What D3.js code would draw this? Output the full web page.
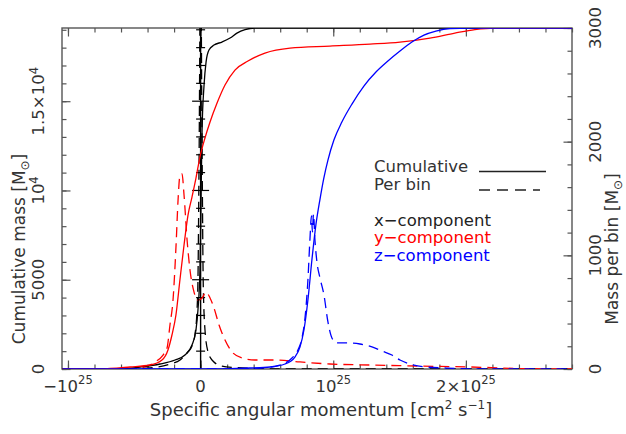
<!DOCTYPE html>
<html>
<head>
<meta charset="utf-8">
<script src="https://cdn.jsdelivr.net/npm/d3@7"></script>
<style>
  body { margin: 0; background: #fff; }
  text { font-family: "DejaVu Sans", sans-serif; fill: #333; }
</style>
</head>
<body>
<div id="chart"></div>
<script>
// specific angular momentum in units of 1e25 cm^2 s^-1
// cumulative mass [Msun] (left axis)
const cumX = [[-1.04,0],[-0.607,0],[-0.457,112],[-0.306,280],[-0.193,504],[-0.118,784],[-0.065,1344],
  [-0.035,2184],[-0.020,3304],[-0.005,5544],[0.003,9464],[0.011,13384],[0.026,15904],[0.041,17192],
  [0.063,17864],[0.101,18144],[0.161,18312],[0.222,18536],[0.274,18816],[0.335,19012],[0.41,19100],[2.8,19100]];
const cumY = [[-1.04,0],[-0.758,0],[-0.532,112],[-0.381,224],[-0.291,504],[-0.246,1064],[-0.216,1904],
  [-0.186,3024],[-0.156,4984],[-0.125,6944],[-0.095,8624],[-0.065,9632],[-0.035,10696],[-0.005,11872],
  [0.033,12936],[0.071,13832],[0.124,14896],[0.184,15904],[0.259,16744],[0.357,17248],[0.485,17696],
  [0.674,17976],[0.975,18088],[1.277,18200],[1.503,18312],[1.729,18536],[1.917,18816],[2.068,19012],
  [2.218,19096],[2.8,19100]];
const cumZ = [[-1.04,0],[0.146,0],[0.372,56],[0.523,112],[0.636,280],[0.711,672],[0.749,1232],[0.779,2184],
  [0.809,3864],[0.839,6104],[0.869,8064],[0.899,9464],[0.929,10696],[0.96,11704],[1.005,12824],
  [1.065,13832],[1.141,14840],[1.231,15848],[1.322,16632],[1.412,17248],[1.503,17808],[1.593,18312],
  [1.684,18704],[1.774,18928],[1.88,19068],[2.03,19100],[2.8,19100]];

// mass per bin [Msun] (right axis)
const binX = [[-1.04,0],[-0.532,0],[-0.381,9],[-0.231,44],[-0.155,79],[-0.102,141],[-0.065,202],
  [-0.042,308],[-0.027,519],[-0.020,783],[-0.011,1927],[0,3700],[0.011,1927],[0.020,739],[0.033,343],
  [0.056,150],[0.093,70],[0.161,26],[0.259,13],[0.448,4],[0.674,0],[2.8,0]];
const binY = [[-1.04,0],[-0.532,0],[-0.419,18],[-0.344,62],[-0.283,123],[-0.253,185],[-0.231,387],
  [-0.208,607],[-0.185,1091],[-0.170,1487],[-0.155,1707],[-0.140,1716],[-0.125,1531],[-0.102,1135],
  [-0.080,871],[-0.050,678],[-0.020,607],[0.011,625],[0.041,678],[0.071,625],[0.101,537],[0.139,387],
  [0.184,255],[0.237,150],[0.312,97],[0.41,79],[0.561,79],[0.749,62],[0.975,44],[1.277,35],[1.654,26],
  [2.03,18],[2.407,4],[2.8,0]];
const binZ = [[-1.04,0],[0.222,0],[0.448,9],[0.598,35],[0.689,97],[0.734,167],[0.764,273],[0.787,449],
  [0.809,783],[0.824,1135],[0.836,1346],[0.843,1206],[0.851,1364],[0.862,1135],[0.877,942],[0.9,801],
  [0.93,651],[0.96,414],[0.99,273],[1.028,229],[1.103,229],[1.201,220],[1.292,194],[1.367,158],
  [1.442,123],[1.503,79],[1.578,44],[1.691,18],[1.842,9],[2.105,0],[2.8,0]];

// tick labels
const xMajor = [-1, 0, 1, 2];
const xLabels = [["\u221210", "25"], ["0", ""], ["10", "25"], ["2\u00d710", "25"]];
const leftMajor = [0, 5000, 10000, 15000];
const leftLabels = [["0", ""], ["5000", ""], ["10", "4"], ["1.5\u00d710", "4"]];
const rightMajor = [0, 1000, 2000, 3000];
const rightLabels = ["0", "1000", "2000", "3000"];

//DIMENSIONS
let WIDTH = 626, HEIGHT = 434,
  PLOT = { left: 62, right: 572, top: 28, bottom: 369 };

let svg = d3.select("#chart").append("svg")
  .attr("width", WIDTH).attr("height", HEIGHT);

let x = d3.scaleLinear().domain([-1.045, 2.8]).range([PLOT.left, PLOT.right]);
let yL = d3.scaleLinear().domain([0, 19100]).range([PLOT.bottom, PLOT.top]);
let yR = d3.scaleLinear().domain([0, 3000]).range([PLOT.bottom, PLOT.top]);

let axisColor = "#555";

//AXES (inward ticks)
function ticks(g, axis, minor, major) {
  g.append("g").call(axis.tickValues(minor).tickSize(-4.5).tickFormat(""));
  g.append("g").call(axis.tickValues(major).tickSize(-8.5).tickFormat(""));
  g.selectAll(".domain").remove();
  g.selectAll("line").attr("stroke", axisColor).attr("stroke-width", 1.2);
}
let xMinor = d3.range(-1, 2.81, 0.2);
ticks(svg.append("g").attr("transform", `translate(0,${PLOT.bottom})`), d3.axisBottom(x), xMinor, xMajor);
ticks(svg.append("g").attr("transform", `translate(0,${PLOT.top})`), d3.axisTop(x), xMinor, xMajor);
ticks(svg.append("g").attr("transform", `translate(${PLOT.left},0)`), d3.axisLeft(yL), d3.range(0, 19100, 1000), leftMajor);
ticks(svg.append("g").attr("transform", `translate(${PLOT.right},0)`), d3.axisRight(yR), d3.range(0, 3001, 200), rightMajor);

//zero axis with ticks on both sides
let zero = svg.append("g").attr("transform", `translate(${x(0)},0)`);
zero.append("line").attr("y1", PLOT.top).attr("y2", PLOT.bottom)
  .attr("stroke", "#000").attr("stroke-width", 1.4);
zero.selectAll(".zt").data(d3.range(1000, 19100, 1000)).enter().append("line")
  .attr("x1", (d) => (d % 5000 === 0 ? -8.5 : -4.5))
  .attr("x2", (d) => (d % 5000 === 0 ? 8.5 : 4.5))
  .attr("y1", (d) => yL(d)).attr("y2", (d) => yL(d))
  .attr("stroke", "#000").attr("stroke-width", 1.2);

//frame
svg.append("rect")
  .attr("x", PLOT.left).attr("y", PLOT.top)
  .attr("width", PLOT.right - PLOT.left).attr("height", PLOT.bottom - PLOT.top)
  .attr("fill", "none").attr("stroke", axisColor).attr("stroke-width", 1.4);

//CURVES
svg.append("clipPath").attr("id", "clip").append("rect")
  .attr("x", PLOT.left).attr("y", PLOT.top)
  .attr("width", PLOT.right - PLOT.left).attr("height", PLOT.bottom - PLOT.top);
let curves = svg.append("g").attr("clip-path", "url(#clip)");

let lineL = d3.line().x((d) => x(d[0])).y((d) => yL(d[1])).curve(d3.curveMonotoneX);
let lineR = d3.line().x((d) => x(d[0])).y((d) => yR(d[1])).curve(d3.curveMonotoneX);

let series = [
  { data: binX, line: lineR, color: "#000", dash: "10,6" },
  { data: binY, line: lineR, color: "#ff0000", dash: "10,6" },
  { data: binZ, line: lineR, color: "#0000ff", dash: "10,6" },
  { data: cumX, line: lineL, color: "#000", dash: null },
  { data: cumY, line: lineL, color: "#ff0000", dash: null },
  { data: cumZ, line: lineL, color: "#0000ff", dash: null },
];
series.forEach((s) => {
  curves.append("path").datum(s.data)
    .attr("d", s.line)
    .attr("fill", "none")
    .attr("stroke", s.color)
    .attr("stroke-width", 1.3)
    .attr("stroke-dasharray", s.dash);
});

//TICK LABELS
function supText(sel, base, sup, size, shift) {
  sel.append("tspan").text(base);
  if (sup) sel.append("tspan").attr("dy", -shift).style("font-size", size + "px").text(sup);
}
xMajor.forEach((v, i) => {
  let t = svg.append("text").attr("x", x(v)).attr("y", 392)
    .attr("text-anchor", "middle").style("font-size", "16.5px");
  supText(t, xLabels[i][0], xLabels[i][1], 11.5, 8);
});
leftMajor.forEach((v, i) => {
  let t = svg.append("text")
    .attr("transform", `translate(44,${yL(v)}) rotate(-90)`)
    .attr("text-anchor", "middle").style("font-size", "16.5px");
  supText(t, leftLabels[i][0], leftLabels[i][1], 11.5, 6.5);
});
rightMajor.forEach((v, i) => {
  svg.append("text")
    .attr("transform", `translate(601,${yR(v)}) rotate(-90)`)
    .attr("text-anchor", "middle").style("font-size", "16.5px")
    .text(rightLabels[i]);
});

//AXIS TITLES
function msun(t, label) {
  t.append("tspan").text(label + " [M");
  t.append("tspan").attr("dy", 4).style("font-size", "12px").text("\u2299");
  t.append("tspan").attr("dy", -4).text("]");
}
msun(svg.append("text").attr("transform", "translate(25,249) rotate(-90)")
  .attr("text-anchor", "middle").style("font-size", "17px"), "Cumulative mass");
msun(svg.append("text").attr("transform", "translate(618,249) rotate(-90)")
  .attr("text-anchor", "middle").style("font-size", "17px"), "Mass per bin");

let xt = svg.append("text").attr("x", 321).attr("y", 416)
  .attr("text-anchor", "middle").style("font-size", "18px");
xt.append("tspan").text("Specific angular momentum [cm");
xt.append("tspan").attr("dy", -7).style("font-size", "12px").text("2");
xt.append("tspan").attr("dy", 7).text(" s");
xt.append("tspan").attr("dy", -7).style("font-size", "12px").text("\u22121");
xt.append("tspan").attr("dy", 7).text("]");

//LEGEND
let legend = svg.append("g").style("font-size", "16.5px");
legend.append("text").attr("x", 374).attr("y", 172).text("Cumulative");
legend.append("text").attr("x", 374).attr("y", 190).text("Per bin");
legend.append("line").attr("x1", 479).attr("x2", 546).attr("y1", 171.5).attr("y2", 171.5)
  .attr("stroke", "#222").attr("stroke-width", 1.3);
legend.append("line").attr("x1", 479).attr("x2", 540).attr("y1", 190).attr("y2", 190)
  .attr("stroke", "#222").attr("stroke-width", 1.3).attr("stroke-dasharray", "11,7");
let comps = [["x\u2212component", "#222"], ["y\u2212component", "#ff0000"], ["z\u2212component", "#0000ff"]];
comps.forEach((c, i) => {
  legend.append("text").attr("x", 374).attr("y", 225.5 + i * 17.6)
    .style("fill", c[1]).text(c[0]);
});
</script>
</body>
</html>
